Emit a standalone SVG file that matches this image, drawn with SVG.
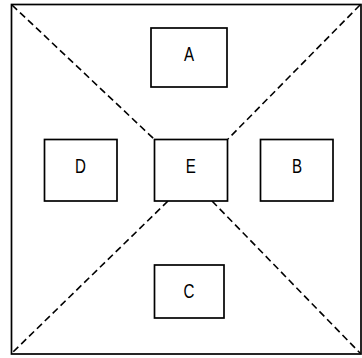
<svg xmlns="http://www.w3.org/2000/svg" width="362" height="358" viewBox="0 0 362 358">
<style>
.frame{fill:none;stroke:#000;stroke-width:1.7}
.box{fill:#fff;stroke:#000;stroke-width:1.7}
.dash{fill:none;stroke:#000;stroke-width:1.6;stroke-dasharray:7 4}
.lbl{font-family:"Liberation Sans",Arial,sans-serif;font-size:21px;text-anchor:middle;fill:#000}
</style>
<rect class="frame" x="11.5" y="4.5" width="349.5" height="349.5"/>
<g id="connectors">
<line class="dash" x1="12" y1="5" x2="154" y2="139"/>
<line class="dash" x1="360" y1="5" x2="228" y2="139"/>
<line class="dash" x1="168" y1="201" x2="12" y2="353"/>
<line class="dash" x1="212" y1="201" x2="360" y2="353"/>
</g>
<g id="A"><rect class="box" x="151" y="28" width="76" height="59"/><text class="lbl" transform="translate(189,61) scale(0.72,1)">A</text></g>
<g id="D"><rect class="box" x="44.5" y="139.5" width="72.5" height="61.5"/><text class="lbl" transform="translate(80.5,172.7) scale(0.72,1)">D</text></g>
<g id="E"><rect class="box" x="154.5" y="139.5" width="73" height="61.5"/><text class="lbl" transform="translate(190.7,172.7) scale(0.72,1)">E</text></g>
<g id="B"><rect class="box" x="260.5" y="139.5" width="72.5" height="61.5"/><text class="lbl" transform="translate(297,172.7) scale(0.72,1)">B</text></g>
<g id="C"><rect class="box" x="154.5" y="265" width="69.5" height="53"/><text class="lbl" transform="translate(189,298) scale(0.72,1)">C</text></g>
</svg>
